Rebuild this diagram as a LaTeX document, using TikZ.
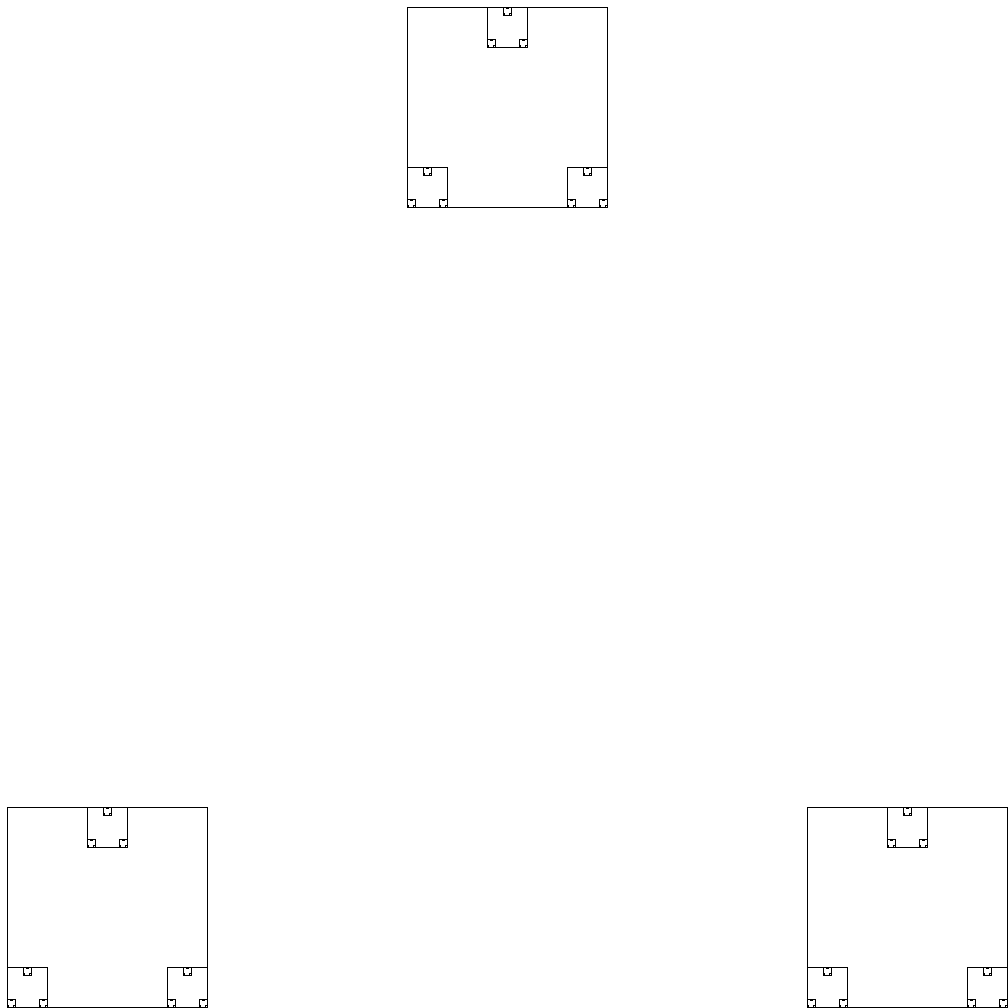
\documentclass[tikz,border=0pt]{standalone}
\begin{document}
\begin{tikzpicture}[x=1pt,y=-1pt,
  sqA/.style={draw=black,line width=0.9pt},
  sqD/.style={draw=black,line width=0.25pt}]
\useasboundingbox (0,0) rectangle (1008,1008);
\foreach \ax/\ay in {400/0,0/800,800/800}{
  \draw[sqA] ({7+\ax},{7+\ay}) rectangle ++(200,200);
  \foreach \bx/\by in {80/0,0/160,160/160}{
    \draw[sqA] ({7+\ax+\bx},{7+\ay+\by}) rectangle ++(40,40);
    \foreach \cx/\cy in {16/0,0/32,32/32}{
      \draw[sqA] ({7+\ax+\bx+\cx},{7+\ay+\by+\cy}) rectangle ++(8,8);
      \foreach \dx/\dy in {3.2/0,0/6.4,6.4/6.4}{
        \draw[sqD] ({7+\ax+\bx+\cx+\dx},{7+\ay+\by+\cy+\dy}) rectangle ++(1.6,1.6);
      }
    }
  }
}
\end{tikzpicture}
\end{document}
